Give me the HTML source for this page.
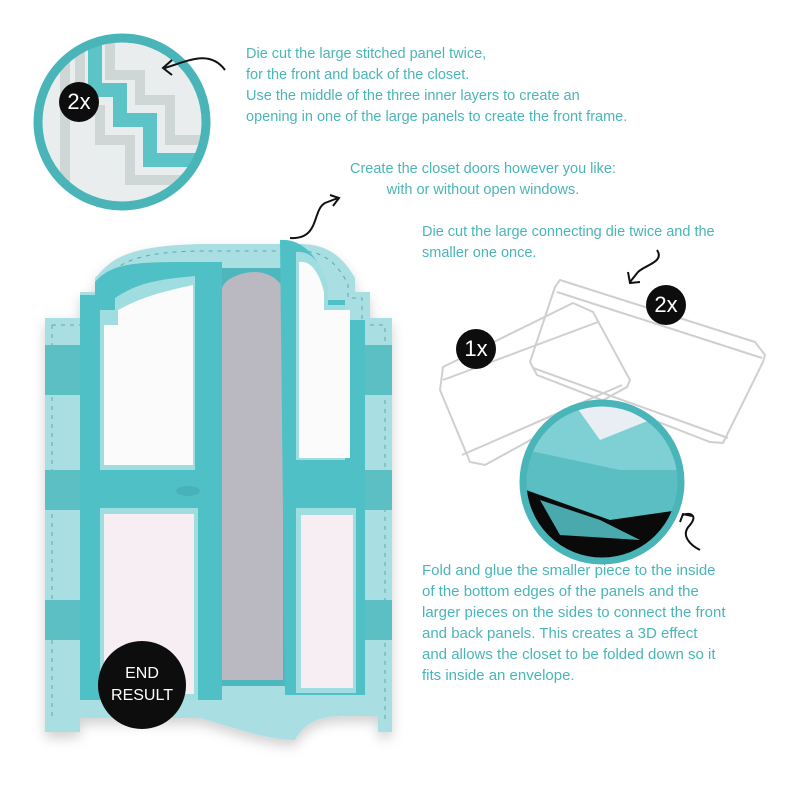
<!DOCTYPE html>
<html><head><meta charset="utf-8"><style>
body{margin:0;background:#fff;width:800px;height:800px;overflow:hidden;position:relative;font-family:"Liberation Sans",sans-serif}
.t{position:absolute;color:#4ab5b8;font-size:14.5px;line-height:21px;white-space:nowrap}
.b{position:absolute;background:#0d0d0d;color:#fff;border-radius:50%;display:flex;align-items:center;justify-content:center;text-align:center}
</style></head><body>
<svg width="800" height="800" style="position:absolute;left:0;top:0">
<defs><clipPath id="c1"><circle cx="122" cy="122" r="80"/></clipPath><clipPath id="c2"><circle cx="602" cy="482" r="76"/></clipPath>
<filter id="sh"><feDropShadow dx="0" dy="6" stdDeviation="6" flood-opacity="0.18"/></filter></defs>
<circle cx="122" cy="122" r="80" fill="#eef0f0"/>
<g clip-path="url(#c1)">
<rect x="40" y="40" width="170" height="170" fill="#e9eded"/>
<path d="M95 40 V90 H120 V120 H150 V160 H210" stroke="#5cc3c6" stroke-width="14" fill="none"/>
<path d="M80 40 V110 H100 V140 H130 V180 H210" stroke="#cfd6d6" stroke-width="10" fill="none"/>
<path d="M110 40 V75 H140 V100 H170 V140 H210" stroke="#cfd6d6" stroke-width="10" fill="none"/>
<path d="M65 60 V210" stroke="#cfd6d6" stroke-width="10" fill="none"/>
</g>
<circle cx="122" cy="122" r="84" fill="none" stroke="#4ab5b8" stroke-width="9"/>
<path d="M225 70 C210 50 190 60 165 68 M172 60 L163 68 L172 75" stroke="#111" stroke-width="2" fill="none"/>
<g fill="none" stroke="#cfcfcf" stroke-width="2">
<path d="M560 280 L755 342 L765 355 L763 362 L723 443 L710 442 L537 375 L530 362 L555 287 Z"/>
<path d="M557 292 L762 358 M533 368 L728 438"/>
<path d="M573 303 L593 312 L630 380 L627 387 L485 465 L470 462 L440 390 L443 367 Z"/>
<path d="M443 380 L598 322 M462 455 L622 385"/>
</g>
<circle cx="602" cy="482" r="76" fill="#0a0a0a"/>
<g clip-path="url(#c2)">
<path d="M526 420 L600 380 L680 420 L680 470 L600 500 L526 470Z" fill="#7fd0d4"/>
<path d="M570 398 L620 388 L650 420 L600 440 Z" fill="#e8eef4"/>
<path d="M526 450 L620 470 L680 470 L680 510 L610 520 L526 490Z" fill="#5bbec2"/>
<path d="M540 500 L600 520 L640 540 L560 535 Z" fill="#4aa9ad"/>
</g>
<circle cx="602" cy="482" r="79" fill="none" stroke="#4ab5b8" stroke-width="7"/>
<path d="M700 550 C690 545 680 535 690 525 C698 515 690 512 683 515 M680 522 L683 514 L692 516" stroke="#111" stroke-width="2" fill="none"/>
<path d="M657 250 C665 262 645 265 638 272 L630 282 M628 272 L630 283 L640 282" stroke="#111" stroke-width="2" fill="none"/>
<path d="M290 238 C320 240 312 210 325 203 L338 198 M330 195 L339 198 L333 206" stroke="#111" stroke-width="2" fill="none"/>
<g filter="url(#sh)">
<path d="M45 318 H80 V292 H95 V278 C110 262 120 246 200 244 H300 C330 244 345 260 355 278 V292 H370 V318 H392 V732 H378 V716 H345 C320 716 305 722 295 740 C270 740 240 730 200 718 H80 V732 H45 Z" fill="#a9dfe2"/>
</g>
<g fill="none" stroke="#5aa9ac" stroke-width="1" stroke-dasharray="4 5">
<path d="M52 325 H86 V298 H100 V284 C115 268 125 252 200 251 H300 C325 251 338 265 348 284 V298 H362 V325 H385 V720"/>
<path d="M52 325 V720"/>
</g>
<rect x="45" y="345" width="347" height="50" fill="#5bbfc4"/>
<rect x="45" y="470" width="347" height="40" fill="#5bbfc4"/>
<rect x="45" y="600" width="347" height="40" fill="#5bbfc4"/>
<rect x="200" y="268" width="90" height="418" fill="#4db7bd"/>
<path d="M222 290 C222 280 240 272 255 272 C270 272 283 282 283 292 V680 H222 Z" fill="#bab8c1"/>
<path d="M80 320 V295 H95 V282 C110 265 130 262 180 262 H222 V700 H80 Z" fill="#4fc0c6"/>
<path d="M100 330 V310 H115 V298 C135 285 150 280 195 276 V470 H100Z" fill="#9fdde1"/>
<path d="M104 340 V325 H118 V310 C140 298 160 292 193 285 V465 H104Z" fill="#fbfbfc"/>
<rect x="100" y="508" width="98" height="192" fill="#9fdde1"/>
<rect x="104" y="514" width="90" height="180" fill="#f7eef4"/>
<ellipse cx="188" cy="491" rx="12" ry="5" fill="#47b3b9"/>
<path d="M280 240 C300 238 318 255 325 280 V300 H345 V320 H365 V695 H285 Z" fill="#4fc0c6"/>
<path d="M296 252 C312 250 322 265 328 285 V305 H345 V460 H296Z" fill="#9fdde1"/>
<path d="M299 262 C312 260 320 275 324 292 V310 H350 V458 H299Z" fill="#fbfbfc"/>
<rect x="296" y="508" width="60" height="185" fill="#9fdde1"/>
<rect x="301" y="515" width="52" height="173" fill="#f7eef4"/>
</svg>
<div class="b" style="left:59px;top:82px;width:40px;height:40px;font-size:22px">2x</div>
<div class="b" style="left:456px;top:329px;width:40px;height:40px;font-size:22px">1x</div>
<div class="b" style="left:646px;top:285px;width:40px;height:40px;font-size:22px">2x</div>
<div class="b" style="left:98px;top:641px;width:88px;height:88px;font-size:16px;line-height:22px">END<br>RESULT</div>
<div class="t" style="left:246px;top:44px">Die cut the large stitched panel twice,<br>for the front and back of the closet.<br>Use the middle of the three inner layers to create an<br>opening in one of the large panels to create the front frame.</div>
<div class="t" style="left:300px;top:159px;width:366px;text-align:center">Create the closet doors however you like:<br>with or without open windows.</div>
<div class="t" style="left:422px;top:222px">Die cut the large connecting die twice and the<br>smaller one once.</div>
<div class="t" style="left:422px;top:560px;font-size:15px">Fold and glue the smaller piece to the inside<br>of the bottom edges of the panels and the<br>larger pieces on the sides to connect the front<br>and back panels. This creates a 3D effect<br>and allows the closet to be folded down so it<br>fits inside an envelope.</div>
</body></html>
